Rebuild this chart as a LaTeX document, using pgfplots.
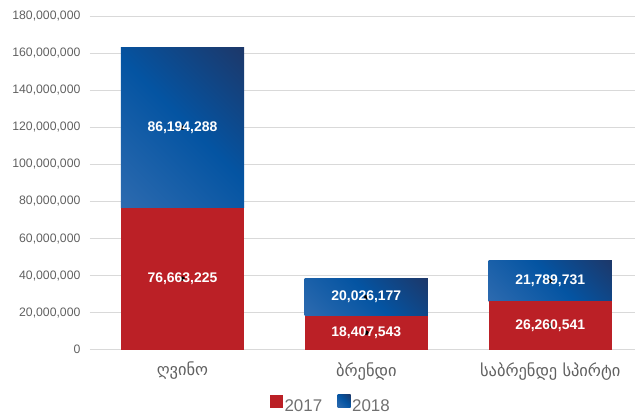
\documentclass[border=0pt]{standalone}
\usepackage{pgfplots}
\pgfplotsset{compat=1.18}
\usepackage{pgfplotstable}
\usepackage{fontspec}
\setmainfont{Liberation Sans}
\newfontfamily\geofont{DejaVu Sans}

\definecolor{bar17}{RGB}{187,32,38}
\definecolor{blueLo}{RGB}{48,108,176}
\definecolor{blueMid}{RGB}{4,84,162}
\definecolor{blueHi}{RGB}{32,52,98}
\definecolor{gridgray}{RGB}{217,217,217}
\definecolor{ticktext}{RGB}{96,96,96}
\definecolor{legtext}{RGB}{112,112,112}

% diagonal gradient of the 2018 bars (bottom-left light, top-right navy)
\pgfdeclareverticalshading{bluegrad}{100bp}{color(0bp)=(blueLo); color(12bp)=(blueLo);
  color(52bp)=(blueMid); color(90bp)=(blueHi); color(100bp)=(blueHi)}

% values per category, labels as printed on the bars
\pgfplotstableread{
x  y17       y18       lab17       lab18
0  76663225  86194288  76,663,225  86,194,288
1  18407543  20026177  18,407,543  20,026,177
2  26260541  21789731  26,260,541  21,789,731
}\sales

\pgfplotsset{
  common/.style={
    scale only axis, width=545bp, height=334bp,
    xmin=-0.503, xmax=2.459, ymin=0, ymax=180000000,
  },
  % one category per axis, so that every bar gets its own shading
  onebar/.style={common, ybar stacked, bar width=0.67, restrict x to domain=#1},
  sq legend/.style={legend image code/.code={\path[##1] (0bp,-1bp) rectangle (13bp,12bp);}},
  red17/.style={fill=bar17, draw=none, sq legend},
  blue18/.style={shade, shading=bluegrad, shading angle=-45, draw=none, sq legend},
}

\begin{document}
\begin{tikzpicture}
\begin{axis}[onebar=-0.1:0.1,
  axis line style={draw=none}, major tick length=0pt,
  ymajorgrids, grid style={gridgray, line width=0.8bp},
  scaled y ticks=false,
  ytick={0,20000000,40000000,60000000,80000000,100000000,120000000,140000000,160000000,180000000},
  yticklabels={0,{20,000,000},{40,000,000},{60,000,000},{80,000,000},{100,000,000},{120,000,000},{140,000,000},{160,000,000},{180,000,000}},
  yticklabel style={font=\fontsize{12.3}{14}\selectfont, text=ticktext, xshift=-6bp},
  xtick={0,1,2},
  xticklabels={ღვინო,ბრენდი,საბრენდე სპირტი},
  xticklabel style={font=\geofont\fontsize{16.5}{18}\selectfont, text=ticktext, yshift=-9bp},
  legend style={at={(0.442,-0.165)}, anchor=center, draw=none, fill=none,
    font=\fontsize{17}{20}\selectfont, text=legtext, legend columns=-1,
    nodes={inner xsep=1.5bp},
    /tikz/every even column/.append style={column sep=14bp}},
]
\addplot[red17] table[x=x, y=y17]{\sales};
\addplot[blue18] table[x=x, y=y18]{\sales};
\legend{2017,2018}
\coordinate (O) at (rel axis cs:0,0);
\end{axis}

\begin{axis}[onebar=0.9:1.1, hide axis]
\addplot[red17] table[x=x, y=y17]{\sales};
\addplot[blue18] table[x=x, y=y18]{\sales};
\end{axis}

\begin{axis}[onebar=1.9:2.1, hide axis]
\addplot[red17] table[x=x, y=y17]{\sales};
\addplot[blue18] table[x=x, y=y18]{\sales};
\end{axis}

\begin{axis}[common, hide axis,
  every node near coord/.style={anchor=center, text=white, font=\bfseries\fontsize{14}{16}\selectfont},
  point meta=explicit symbolic, nodes near coords]
\addplot[only marks, mark=*, mark options={draw=none, fill=none}] table[x=x, y expr=\thisrow{y17}/2, meta=lab17]{\sales};
\addplot[only marks, mark=*, mark options={draw=none, fill=none}] table[x=x, y expr=\thisrow{y17}+\thisrow{y18}/2, meta=lab18]{\sales};
\end{axis}

\path (O) ++(-90bp,-68bp) rectangle ++(635bp,418bp);
\end{tikzpicture}
\end{document}
